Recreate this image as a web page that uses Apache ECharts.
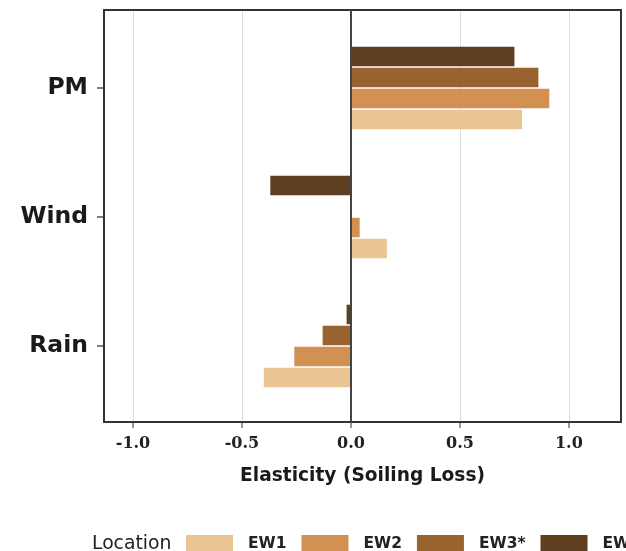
<!DOCTYPE html>
<html>
<head>
<meta charset="utf-8">
<script src="https://cdn.jsdelivr.net/npm/echarts@6/dist/echarts.min.js"></script>
<style>
  html, body { margin: 0; padding: 0; background: #fff; }
  #chart { width: 626px; height: 551px; }
</style>
</head>
<body>
<div id="chart"></div>
<script>
// Drivers, listed bottom to top on the category axis
const drivers = ['Rain', 'Wind', 'PM'];
// Locations, in legend order
const locations = ['EW1', 'EW2', 'EW3*', 'EW4'];
// Elasticity of soiling loss per driver (Rain, Wind, PM)
const ew1 = [-0.40, 0.165, 0.785];
const ew2 = [-0.26, 0.04, 0.91];
const ew3 = [-0.13, 0, 0.86];
const ew4 = [-0.02, -0.37, 0.75];
// Tick positions on the elasticity axis
const xTicks = [-1.0, -0.5, 0.0, 0.5, 1.0];
const xMin = -1.133;
const xMax = 1.239;

const locationValues = [ew1, ew2, ew3, ew4];
const locationColors = ['#E9C08B', '#CE8744', '#90561D', '#532F0D'];

const chart = echarts.init(document.getElementById('chart'), null, { renderer: 'canvas' });

// Bars are listed last-to-first so EW1 sits lowest within each driver group
const barSeries = locations.map((name, i) => ({
  name: name,
  type: 'bar',
  xAxisIndex: 1,
  yAxisIndex: 1,
  data: locationValues[i],
  barWidth: 19.5,
  barGap: '8%',
  itemStyle: { color: locationColors[i], opacity: 0.92 },
  z: 10
})).reverse();

const option = {
  animation: false,
  backgroundColor: '#fff',
  title: {
    text: 'Location',
    left: 87,
    top: 530,
    textStyle: { fontFamily: 'DejaVu Sans', fontSize: 18.8, fontWeight: 'normal', color: '#222' }
  },
  legend: {
    data: locations,
    left: 181,
    top: 530,
    width: 900,
    itemWidth: 47,
    itemHeight: 18,
    itemGap: 15,
    icon: 'rect',
    textStyle: {
      fontFamily: 'DejaVu Sans', fontSize: 15.5, fontWeight: 'bold', color: '#222',
      padding: [0, 0, 0, 10]
    }
  },
  grid: [
    { left: 104, right: 5, top: 10, bottom: 129, show: true, borderColor: '#333', borderWidth: 2, backgroundColor: 'transparent', z: 5 },
    { left: 104, right: 5, top: 23.5, height: 387 }
  ],
  xAxis: [
    {
      type: 'value', gridIndex: 0, min: xMin, max: xMax, position: 'bottom',
      axisLine: { show: false },
      splitLine: { show: false },
      axisTick: { show: true, customValues: xTicks, length: 6, lineStyle: { color: '#777', width: 1.5 } },
      axisLabel: {
        customValues: xTicks, margin: 14,
        formatter: v => v.toFixed(1),
        fontFamily: 'DejaVu Serif', fontWeight: 'bold', fontSize: 16, color: '#222'
      },
      name: 'Elasticity (Soiling Loss)',
      nameLocation: 'middle',
      nameGap: 45,
      nameTextStyle: { fontFamily: 'DejaVu Sans', fontWeight: 'bold', fontSize: 18.6, color: '#1a1a1a' }
    },
    { type: 'value', gridIndex: 1, min: xMin, max: xMax, show: false, splitLine: { show: false } }
  ],
  yAxis: [
    { type: 'value', gridIndex: 0, min: 0, max: 1, show: false, splitLine: { show: false } },
    {
      type: 'category', gridIndex: 1, data: drivers, position: 'left',
      axisLine: { show: false, onZero: false },
      axisTick: { show: true, alignWithLabel: true, length: 7, lineStyle: { color: '#555', width: 1.5 } },
      axisLabel: { margin: 16, fontFamily: 'DejaVu Sans', fontWeight: 'bold', fontSize: 23.5, color: '#1a1a1a' },
      splitLine: { show: false }
    }
  ],
  series: [
    {
      name: 'gridlines', type: 'line', xAxisIndex: 0, yAxisIndex: 0, data: [], silent: true, z: 0,
      markLine: {
        silent: true, symbol: 'none', label: { show: false }, z: 0,
        lineStyle: { color: '#dddddd', width: 1, type: 'solid' },
        data: xTicks.filter(v => v !== 0).map(v => ({ xAxis: v }))
      }
    },
    ...barSeries,
    {
      name: 'zero', type: 'line', xAxisIndex: 0, yAxisIndex: 0, data: [], silent: true, z: 20,
      markLine: {
        silent: true, symbol: 'none', label: { show: false }, z: 20,
        lineStyle: { color: '#444', width: 2, type: 'solid' },
        data: [{ xAxis: 0 }]
      }
    }
  ]
};

chart.setOption(option);
</script>
</body>
</html>
